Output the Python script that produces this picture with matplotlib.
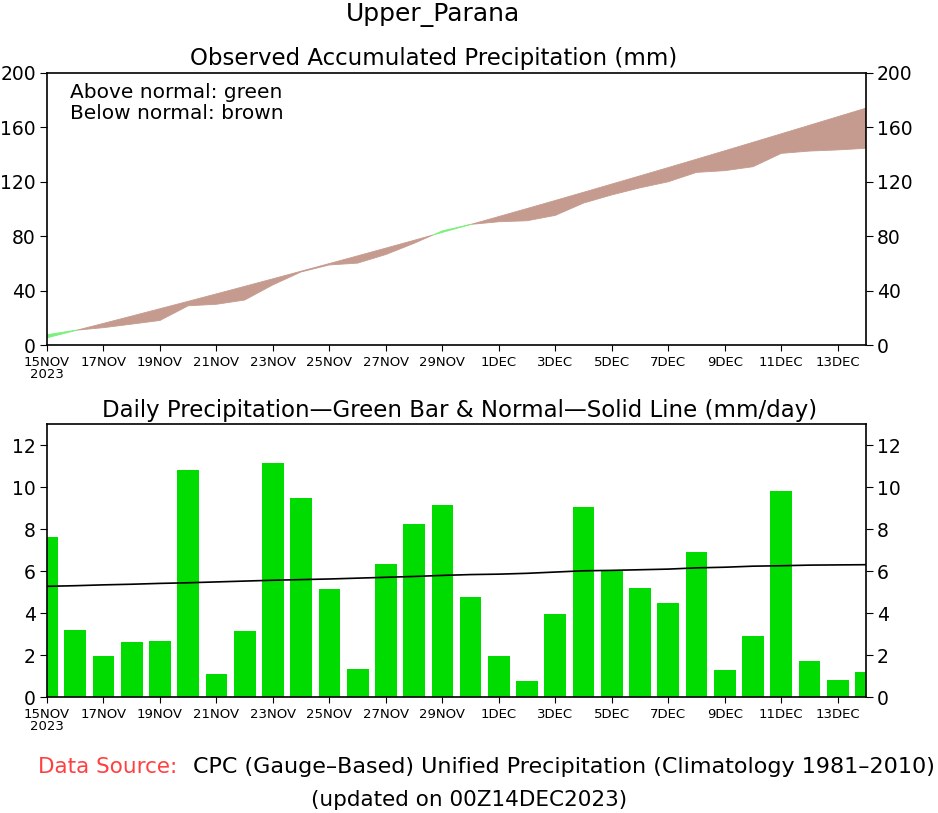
import matplotlib
matplotlib.use('Agg')
import matplotlib.pyplot as plt
import numpy as np

# daily observed precipitation (mm/day), 15NOV2023 .. 14DEC2023
days = ['15NOV', '16NOV', '17NOV', '18NOV', '19NOV', '20NOV', '21NOV', '22NOV',
        '23NOV', '24NOV', '25NOV', '26NOV', '27NOV', '28NOV', '29NOV', '30NOV',
        '1DEC', '2DEC', '3DEC', '4DEC', '5DEC', '6DEC', '7DEC', '8DEC',
        '9DEC', '10DEC', '11DEC', '12DEC', '13DEC', '14DEC']
daily_obs = [7.6, 3.2, 1.95, 2.6, 2.68, 10.8, 1.11, 3.13,
             11.16, 9.5, 5.13, 1.35, 6.32, 8.25, 9.14, 4.75,
             1.94, 0.75, 3.95, 9.06, 6.0, 5.2, 4.46, 6.9,
             1.27, 2.89, 9.81, 1.71, 0.83, 1.2]
# daily normal (climatology 1981-2010), mm/day
daily_normal = [5.27, 5.30, 5.34, 5.37, 5.41, 5.44, 5.48, 5.52,
                5.56, 5.59, 5.62, 5.66, 5.70, 5.74, 5.79, 5.83,
                5.85, 5.89, 5.95, 6.01, 6.03, 6.06, 6.09, 6.15,
                6.18, 6.23, 6.25, 6.28, 6.29, 6.30]

tick_labels = ['15NOV\n2023', '17NOV', '19NOV', '21NOV', '23NOV', '25NOV', '27NOV',
               '29NOV', '1DEC', '3DEC', '5DEC', '7DEC', '9DEC', '11DEC', '13DEC']

x = np.arange(len(days))
obs_acc = np.cumsum(daily_obs)
norm_acc = np.cumsum(daily_normal)

plt.rcParams['font.family'] = ['DejaVu Sans']
fig = plt.figure(figsize=(9.38, 8.13), dpi=100)

brown = '#c69b8f'
lgreen = '#7cf07c'
bar_green = '#00dc00'


def style_axis(ax):
    ax.set_xlim(0, len(days) - 1)
    ax.set_xticks(x[::2])
    ax.set_xticklabels(tick_labels, fontsize=9.5, linespacing=0.85)
    ax.tick_params(axis='x', direction='out', length=4, pad=4)
    ax.tick_params(axis='y', direction='out', length=5, labelsize=13.5,
                   right=True, labelright=True, pad=3)
    for s in ax.spines.values():
        s.set_linewidth(1.2)


# top panel: accumulated precipitation
ax1 = fig.add_axes([47 / 938, 1 - 345 / 813, 819 / 938, 272 / 813])
ax1.fill_between(x, obs_acc, norm_acc, where=obs_acc <= norm_acc,
                 interpolate=True, color=brown, linewidth=0.6, edgecolor=brown)
ax1.fill_between(x, obs_acc, norm_acc, where=obs_acc >= norm_acc,
                 interpolate=True, color=lgreen, linewidth=0.6, edgecolor=lgreen)
ax1.set_ylim(0, 200)
ax1.set_yticks(range(0, 201, 40))
style_axis(ax1)
ax1.text(0.028, 0.93, 'Above normal: green', transform=ax1.transAxes,
         fontsize=14.5, va='center')
ax1.text(0.028, 0.85, 'Below normal: brown', transform=ax1.transAxes,
         fontsize=14.5, va='center')

# bottom panel: daily bars and normal
ax2 = fig.add_axes([47 / 938, 1 - 697 / 813, 819 / 938, 273 / 813])
ax2.bar(x, daily_obs, width=0.77, color=bar_green, zorder=2)
ax2.plot(x, daily_normal, color='black', linewidth=1.2, zorder=3)
ax2.set_ylim(0, 13)
ax2.set_yticks(range(0, 13, 2))
style_axis(ax2)

fig.text(433 / 938, 1 - 15 / 813, 'Upper_Parana', ha='center', va='center', fontsize=18)
fig.text(434 / 938, 1 - 58 / 813, 'Observed Accumulated Precipitation (mm)',
         ha='center', va='center', fontsize=16.5)
fig.text(460 / 938, 1 - 410 / 813,
         'Daily Precipitation\u2014Green Bar & Normal\u2014Solid Line (mm/day)',
         ha='center', va='center', fontsize=16.5)

fig.text(38 / 938, 1 - 767 / 813, 'Data Source:', color='#ff4040',
         ha='left', va='center', fontsize=15.5)
fig.text(935 / 938, 1 - 767 / 813,
         'CPC (Gauge\u2013Based) Unified Precipitation (Climatology 1981\u20132010)',
         ha='right', va='center', fontsize=16)
fig.text(469 / 938, 1 - 800 / 813, '(updated on 00Z14DEC2023)',
         ha='center', va='center', fontsize=15.5)

fig.savefig('out.png', dpi=100)
